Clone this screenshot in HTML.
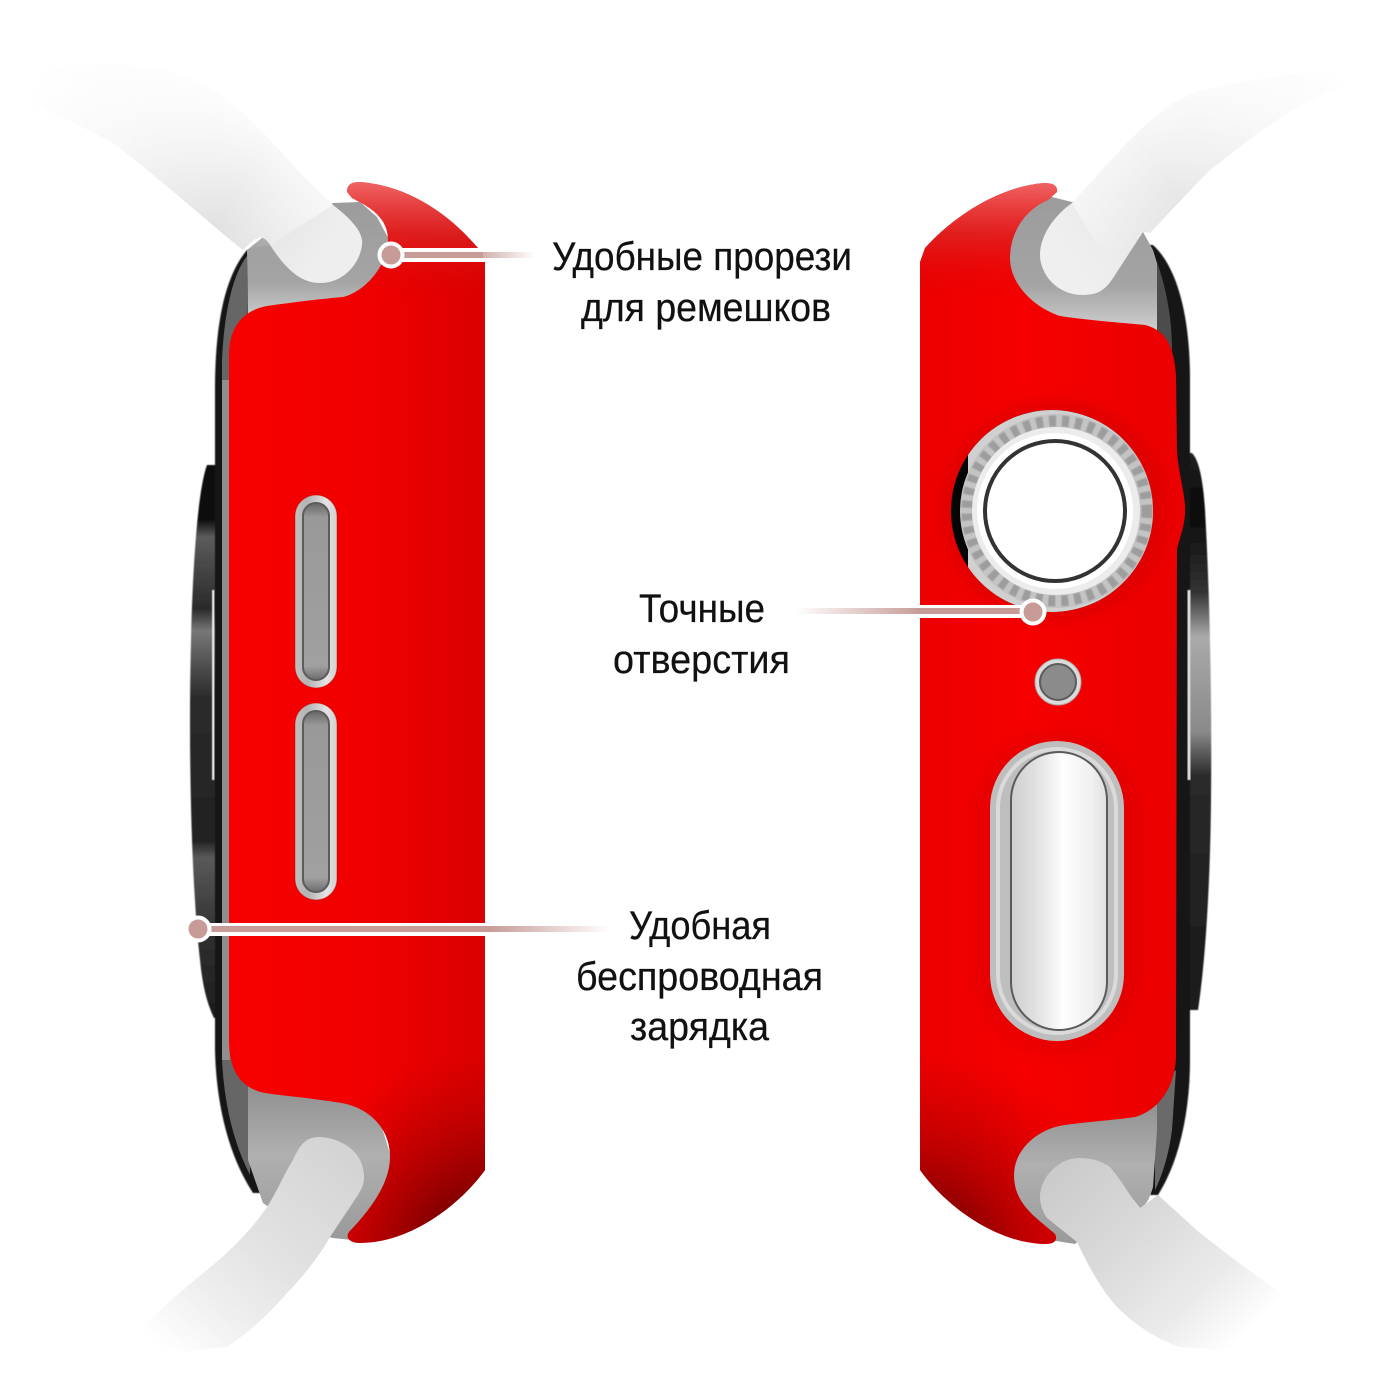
<!DOCTYPE html>
<html><head><meta charset="utf-8"><style>
html,body{margin:0;padding:0;background:#fff;width:1400px;height:1400px;overflow:hidden}
svg{display:block}
text{font-family:"Liberation Sans Narrow","Liberation Sans",sans-serif;font-size:40px;fill:#111;stroke:#111;stroke-width:.25px}
</style></head><body>
<svg width="1400" height="1400" viewBox="0 0 1400 1400" xmlns="http://www.w3.org/2000/svg">
<defs>
<linearGradient id="bTL" gradientUnits="userSpaceOnUse" x1="35" y1="85" x2="320" y2="260"><stop offset="0" stop-color="#fff"/><stop offset=".3" stop-color="#f6f6f6"/><stop offset=".68" stop-color="#e0e0e0"/><stop offset="1" stop-color="#eeeeee"/></linearGradient>
<linearGradient id="bTLo" gradientUnits="userSpaceOnUse" x1="235" y1="110" x2="175" y2="210"><stop offset="0" stop-color="#fff" stop-opacity=".85"/><stop offset="1" stop-color="#fff" stop-opacity="0"/></linearGradient>
<linearGradient id="bTR" gradientUnits="userSpaceOnUse" x1="1345" y1="80" x2="1075" y2="265"><stop offset="0" stop-color="#fff"/><stop offset=".3" stop-color="#f6f6f6"/><stop offset=".62" stop-color="#e4e4e4"/><stop offset="1" stop-color="#efefef"/></linearGradient>
<linearGradient id="bTRo" gradientUnits="userSpaceOnUse" x1="1140" y1="110" x2="1200" y2="200"><stop offset="0" stop-color="#fff" stop-opacity=".8"/><stop offset="1" stop-color="#fff" stop-opacity="0"/></linearGradient>
<linearGradient id="bBL" gradientUnits="userSpaceOnUse" x1="335" y1="1150" x2="165" y2="1350"><stop offset="0" stop-color="#d4d4d4"/><stop offset=".45" stop-color="#e2e2e2"/><stop offset=".72" stop-color="#eeeeee"/><stop offset="1" stop-color="#fff"/></linearGradient>
<linearGradient id="bBR" gradientUnits="userSpaceOnUse" x1="1060" y1="1170" x2="1230" y2="1350"><stop offset="0" stop-color="#cbcbcb"/><stop offset=".4" stop-color="#dadada"/><stop offset=".75" stop-color="#ebebeb"/><stop offset="1" stop-color="#fff"/></linearGradient>
<linearGradient id="sil" x1="0" y1="0" x2="0" y2="1"><stop offset="0" stop-color="#9c9c9c"/><stop offset=".6" stop-color="#a4a4a4"/><stop offset=".9" stop-color="#cfcfcf"/><stop offset="1" stop-color="#d8d8d8"/></linearGradient>
<linearGradient id="sil2" x1="0" y1="0" x2="0" y2="1"><stop offset="0" stop-color="#8f8f8f"/><stop offset=".45" stop-color="#b0b0b0"/><stop offset="1" stop-color="#9a9a9a"/></linearGradient>
<linearGradient id="redL" gradientUnits="userSpaceOnUse" x1="229" y1="0" x2="485" y2="0"><stop offset="0" stop-color="#f80000"/><stop offset=".55" stop-color="#f00000"/><stop offset="1" stop-color="#da0000"/></linearGradient>
<linearGradient id="redR" gradientUnits="userSpaceOnUse" x1="920" y1="0" x2="1180" y2="0"><stop offset="0" stop-color="#ec0000"/><stop offset=".4" stop-color="#f60000"/><stop offset="1" stop-color="#ea0000"/></linearGradient>
<linearGradient id="topSh" gradientUnits="userSpaceOnUse" x1="0" y1="182" x2="0" y2="300"><stop offset="0" stop-color="#f07070" stop-opacity=".9"/><stop offset=".45" stop-color="#d83030" stop-opacity=".6"/><stop offset="1" stop-color="#d80000" stop-opacity="0"/></linearGradient>
<radialGradient id="botL" gradientUnits="userSpaceOnUse" cx="490" cy="1265" r="215"><stop offset=".1" stop-color="#4a0000" stop-opacity="1"/><stop offset=".5" stop-color="#800000" stop-opacity=".6"/><stop offset="1" stop-color="#b00000" stop-opacity="0"/></radialGradient>
<radialGradient id="botR" gradientUnits="userSpaceOnUse" cx="915" cy="1265" r="215"><stop offset=".1" stop-color="#5a0000" stop-opacity="1"/><stop offset=".5" stop-color="#880000" stop-opacity=".55"/><stop offset="1" stop-color="#b00000" stop-opacity="0"/></radialGradient>
<linearGradient id="outL" x1="0" y1="0" x2="0" y2="1"><stop offset="0" stop-color="#0c0c0c"/><stop offset=".1" stop-color="#111"/><stop offset=".13" stop-color="#5c5c5c"/><stop offset=".26" stop-color="#2a2a2a"/><stop offset=".3" stop-color="#777"/><stop offset=".42" stop-color="#2b2b2b"/><stop offset=".68" stop-color="#222"/><stop offset=".71" stop-color="#5a5a5a"/><stop offset=".85" stop-color="#303030"/><stop offset="1" stop-color="#1c1c1c"/></linearGradient>
<linearGradient id="outR" x1="0" y1="0" x2="0" y2="1"><stop offset="0" stop-color="#222"/><stop offset=".1" stop-color="#080808"/><stop offset=".25" stop-color="#333"/><stop offset=".33" stop-color="#aaa"/><stop offset=".5" stop-color="#8a8a8a"/><stop offset=".58" stop-color="#2a2a2a"/><stop offset="1" stop-color="#1a1a1a"/></linearGradient>
<linearGradient id="pill" x1="0" y1="0" x2="1" y2="0"><stop offset="0" stop-color="#c0c0c0"/><stop offset=".3" stop-color="#b4b4b4"/><stop offset=".75" stop-color="#e4e4e4"/><stop offset="1" stop-color="#cfcfcf"/></linearGradient>
<linearGradient id="pin" x1="0" y1="0" x2="0" y2="1"><stop offset="0" stop-color="#666"/><stop offset=".08" stop-color="#999"/><stop offset=".92" stop-color="#a0a0a0"/><stop offset="1" stop-color="#6c6c6c"/></linearGradient>
<linearGradient id="btn" x1="0" y1="0" x2="1" y2="0"><stop offset="0" stop-color="#cfcfcf"/><stop offset=".25" stop-color="#e0e0e0"/><stop offset=".55" stop-color="#fefefe"/><stop offset=".85" stop-color="#efefef"/><stop offset="1" stop-color="#e0e0e0"/></linearGradient>
<linearGradient id="ln1" gradientUnits="userSpaceOnUse" x1="470" y1="0" x2="535" y2="0"><stop offset="0" stop-color="#c79c98"/><stop offset="1" stop-color="#c79c98" stop-opacity="0"/></linearGradient>
<linearGradient id="ln2" gradientUnits="userSpaceOnUse" x1="920" y1="0" x2="795" y2="0"><stop offset="0" stop-color="#c79c98"/><stop offset="1" stop-color="#c79c98" stop-opacity="0"/></linearGradient>
<linearGradient id="ln3" gradientUnits="userSpaceOnUse" x1="490" y1="0" x2="610" y2="0"><stop offset="0" stop-color="#c79c98"/><stop offset="1" stop-color="#c79c98" stop-opacity="0"/></linearGradient>
<filter id="b05" x="-5%" y="-5%" width="110%" height="110%"><feGaussianBlur stdDeviation=".6"/></filter>
<filter id="b6" x="-30%" y="-30%" width="160%" height="160%"><feGaussianBlur stdDeviation="7"/></filter>
<clipPath id="holeClip"><circle cx="1052" cy="511" r="101"/></clipPath>
<path id="rl" d="M347,192 C347,184 352,182 360,182 C410,186 450,215 478,248 L485,262 L485,1170 C460,1205 410,1243 360,1243 C350,1243 345,1238 349,1232 C368,1212 390,1185 390,1157 C390,1125 365,1105 335,1102 C310,1098 285,1096 265,1093 C240,1088 229,1070 229,1040 L229,355 C229,325 245,310 267,306 C295,302 320,299 343,297 C365,292 388,265 388,240 C388,215 365,205 352,198 Z"/>
<path id="rr" d="M1057,192 C1058,185 1052,183 1044,183 C995,187 950,220 925,248 L920,262 L920,1170 C945,1205 995,1243 1045,1244 C1055,1244 1058,1240 1055,1234 C1037,1218 1014,1205 1014,1175 C1014,1148 1040,1128 1065,1125 C1095,1121 1115,1120 1135,1117 C1160,1110 1176,1085 1176,1055 L1177,550 C1180,535 1186,525 1185,505 C1184,490 1178,470 1177,450 L1176,375 C1174,345 1165,330 1145,325 C1115,322 1085,320 1060,316 C1035,308 1010,285 1010,258 C1010,228 1030,207 1048,200 Z"/>
<clipPath id="cl"><use href="#rl"/></clipPath>
<clipPath id="cr"><use href="#rr"/></clipPath>
</defs>

<!-- LEFT watch: body -->
<path d="M207,465 C198,490 193,560 191,640 C188,760 192,890 200,960 C203,990 208,1005 214,1018 L221,1018 L221,465 Z" fill="url(#outL)" filter="url(#b05)"/>
<rect x="212" y="590" width="2.5" height="190" fill="#e8e8e8" filter="url(#b05)"/>
<path d="M247,250 C226,275 215,320 215,390 L215,1050 C216,1095 225,1150 253,1193 L262,1193 L262,250 Z" fill="#141414" filter="url(#b05)"/>
<path d="M247,256 C232,275 224,315 222,360 L222,1060 C224,1100 232,1140 250,1175 Z" fill="#666"/>
<rect x="222" y="380" width="8" height="680" fill="#8f8f8f"/>
<path d="M247,250 L263,237 L300,220 L333,203 L360,202 L377,217 L392,245 L385,300 L300,315 L248,335 Z" fill="url(#sil)"/>
<path d="M248,1085 L248,1160 L263,1203 L300,1230 L333,1238 L352,1240 L395,1170 L375,1105 Z" fill="url(#sil2)"/>

<!-- LEFT straps -->
<path d="M33,73 C90,60 150,60 200,83 C235,100 270,140 300,173 L333,205 C350,218 364,232 362,245 C360,262 345,283 320,283 C300,283 285,268 270,245 C262,232 255,238 243,250 C220,232 205,218 183,200 C160,180 135,160 113,143 C85,128 60,115 33,105 Z" fill="url(#bTL)"/>
<path d="M33,73 C90,60 150,60 200,83 C235,100 270,140 300,173 L333,205 L270,245 L243,250 C220,232 205,218 183,200 C160,180 135,160 113,143 C85,128 60,115 33,105 Z" fill="url(#bTLo)"/>
<path d="M130,1337 C150,1320 165,1305 183,1290 C200,1275 218,1262 233,1247 C248,1232 258,1220 267,1207 C278,1190 285,1172 293,1160 C300,1145 305,1137 320,1137 C340,1138 358,1150 362,1165 C366,1178 364,1185 358,1195 L330,1237 C318,1258 302,1278 287,1293 C268,1315 248,1333 227,1347 L175,1352 Z" fill="url(#bBL)"/>

<!-- LEFT red -->
<use href="#rl" fill="url(#redL)"/>
<g clip-path="url(#cl)">
<rect x="225" y="180" width="265" height="125" fill="url(#topSh)"/>
<rect x="225" y="1040" width="265" height="210" fill="url(#botL)"/>
</g>

<!-- vents -->
<rect x="295" y="495" width="42" height="193" rx="21" fill="url(#pill)" stroke="#b80000" stroke-opacity=".4" stroke-width="1"/>
<rect x="303" y="503" width="26" height="177" rx="13" fill="url(#pin)" stroke="#5c5c5c" stroke-width="2"/>
<rect x="295" y="703" width="42" height="197" rx="21" fill="url(#pill)" stroke="#b80000" stroke-opacity=".4" stroke-width="1"/>
<rect x="303" y="711" width="26" height="181" rx="13" fill="url(#pin)" stroke="#5c5c5c" stroke-width="2"/>

<!-- RIGHT watch: body -->
<path d="M1192,453 C1199,460 1203,480 1205,510 C1210,600 1212,700 1211,800 C1210,900 1204,970 1198,1010 L1186,1010 L1186,453 Z" fill="url(#outR)" filter="url(#b05)"/>
<path d="M1153,245 C1175,265 1190,310 1190,380 L1190,1060 C1190,1110 1180,1160 1158,1195 L1150,1195 L1150,245 Z" fill="#141414" filter="url(#b05)"/>
<rect x="1187.5" y="590" width="3" height="190" fill="#e0e0e0" filter="url(#b05)"/>
<path d="M1157,262 C1165,285 1172,315 1172,350 L1150,350 Z" fill="#4c4c4c"/>
<path d="M1155,1090 L1176,1070 L1172,1130 C1168,1160 1160,1180 1155,1190 Z" fill="#6a6a6a"/>
<path d="M1072,202 L1048,196 L1000,225 L1000,265 L1020,305 L1060,330 L1130,340 L1157,345 L1157,263 L1153,250 L1143,232 L1080,200 Z" fill="url(#sil)"/>
<path d="M1157,1100 L1060,1110 L1005,1150 L1005,1190 L1050,1240 L1075,1244 L1128,1193 L1140,1208 C1147,1205 1150,1197 1153,1187 L1157,1130 Z" fill="url(#sil2)"/>

<!-- RIGHT straps -->
<path d="M1357,73 C1320,72 1290,72 1257,80 C1220,85 1195,90 1173,103 C1155,115 1140,130 1123,147 L1072,203 C1055,215 1040,235 1040,255 C1040,272 1055,295 1083,295 C1100,295 1107,288 1115,275 L1143,232 L1150,233 C1170,212 1190,190 1210,170 C1230,155 1250,138 1273,123 C1295,108 1320,95 1345,85 Z" fill="url(#bTR)"/>
<path d="M1357,73 C1320,72 1290,72 1257,80 C1220,85 1195,90 1173,103 C1155,115 1140,130 1123,147 L1072,203 L1115,275 L1143,232 L1150,233 C1170,212 1190,190 1210,170 C1230,155 1250,138 1273,123 C1295,108 1320,95 1345,85 Z" fill="url(#bTRo)"/>
<path d="M1077,1158 C1055,1160 1040,1180 1040,1197 C1040,1205 1043,1212 1047,1218 L1077,1242 C1088,1265 1100,1288 1117,1307 C1135,1325 1158,1340 1180,1347 L1260,1352 L1350,1333 C1320,1318 1295,1303 1267,1283 C1245,1268 1222,1250 1200,1233 L1158,1195 L1140,1208 C1132,1200 1125,1185 1110,1167 C1100,1160 1090,1158 1077,1158 Z" fill="url(#bBR)"/>

<!-- RIGHT red -->
<use href="#rr" fill="url(#redR)"/>
<g clip-path="url(#cr)">
<rect x="915" y="180" width="150" height="125" fill="url(#topSh)"/>
<rect x="915" y="1040" width="150" height="210" fill="url(#botR)"/>
</g>

<!-- crown -->
<circle cx="1054" cy="511" r="112" fill="#c00000" opacity=".3" filter="url(#b6)"/>
<rect x="975" y="730" width="165" height="325" rx="80" fill="#c00000" opacity=".22" filter="url(#b6)"/>
<circle cx="1052" cy="511" r="101" fill="#050505"/>
<g clip-path="url(#holeClip)">
<rect x="968" y="400" width="200" height="230" fill="#d0d0d0"/>
<circle cx="1057" cy="511" r="97" fill="#c4c4c4"/>
<circle cx="1057" cy="511" r="90" fill="none" stroke="#8e8e8e" stroke-width="11" stroke-dasharray="7 6" opacity=".7" filter="url(#b05)"/>
<circle cx="1056" cy="511" r="84" fill="#ececec"/>
<circle cx="1055" cy="511" r="78" fill="#fff"/>
</g>
<circle cx="1055" cy="511" r="70" fill="#fff" stroke="#333" stroke-width="4"/>
<!-- small hole -->
<circle cx="1058" cy="682" r="23" fill="#dcdcdc" stroke="#a8a8a8" stroke-width="1"/>
<circle cx="1058" cy="682" r="18" fill="#8b8b8b" stroke="#5c5c5c" stroke-width="2"/>
<!-- big button -->
<rect x="990" y="741" width="134" height="300" rx="67" fill="#bebebe"/>
<rect x="998" y="749" width="118" height="284" rx="59" fill="none" stroke="#dadada" stroke-width="4"/>
<rect x="1011" y="752" width="96" height="278" rx="48" fill="url(#btn)" stroke="#5a5a5a" stroke-width="2"/>

<!-- callouts -->
<rect x="398" y="248" width="87" height="14" fill="#fff"/>
<rect x="398" y="252" width="85" height="6" fill="#c79c98"/>
<rect x="470" y="252" width="65" height="6" fill="url(#ln1)"/>
<circle cx="391" cy="255" r="11.5" fill="#c79c98" stroke="#fff" stroke-width="4"/>

<rect x="920" y="605" width="105" height="13" fill="#fff"/>
<rect x="920" y="608" width="105" height="6" fill="#c79c98"/>
<rect x="795" y="608" width="125" height="6" fill="url(#ln2)"/>
<circle cx="1033" cy="612" r="11.5" fill="#c79c98" stroke="#fff" stroke-width="4"/>

<rect x="205" y="923" width="280" height="13" fill="#fff"/>
<rect x="205" y="926" width="285" height="6" fill="#c79c98"/>
<rect x="490" y="926" width="120" height="6" fill="url(#ln3)"/>
<circle cx="198" cy="929" r="11.5" fill="#c79c98" stroke="#fff" stroke-width="4"/>

<!-- labels -->
<text x="552" y="270" textLength="300" lengthAdjust="spacingAndGlyphs">Удобные прорези</text>
<text x="581" y="321" textLength="250" lengthAdjust="spacingAndGlyphs">для ремешков</text>
<text x="639" y="622" textLength="126" lengthAdjust="spacingAndGlyphs">Точные</text>
<text x="613" y="673" textLength="177" lengthAdjust="spacingAndGlyphs">отверстия</text>
<text x="629" y="939" textLength="142" lengthAdjust="spacingAndGlyphs">Удобная</text>
<text x="576" y="990" textLength="247" lengthAdjust="spacingAndGlyphs">беспроводная</text>
<text x="630" y="1040" textLength="139" lengthAdjust="spacingAndGlyphs">зарядка</text>
</svg>
</body></html>
